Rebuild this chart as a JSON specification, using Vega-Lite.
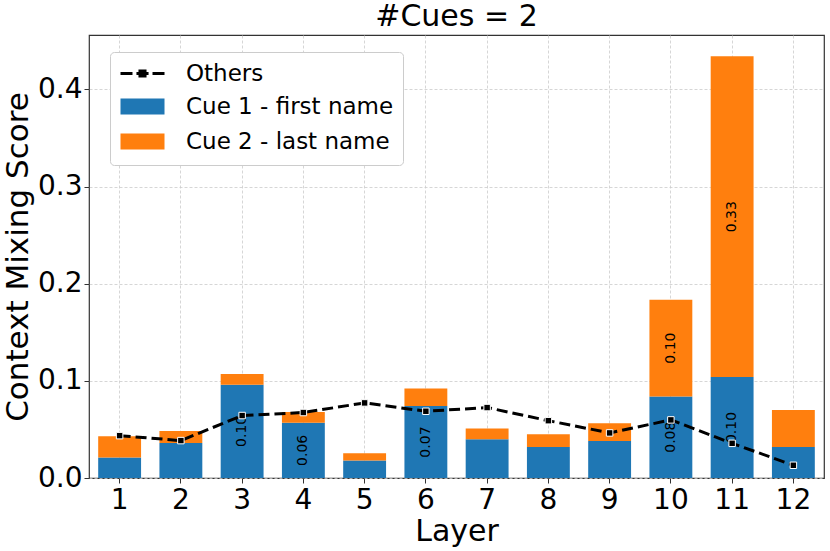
{
  "$schema": "https://vega.github.io/schema/vega-lite/v6.json",
  "width": 735,
  "height": 443,
  "autosize": {"type": "none"},
  "padding": {"left": 89, "top": 35, "right": 6, "bottom": 73},
  "title": {
    "text": "#Cues = 2",
    "font": "DejaVu Sans",
    "fontSize": 30,
    "fontWeight": "normal",
    "color": "black",
    "anchor": "middle",
    "frame": "group",
    "baseline": "alphabetic",
    "offset": 7,
    "dy": 28
  },
  "config": {
    "view": {"stroke": "#333333", "strokeWidth": 1.2},
    "font": "DejaVu Sans",
    "axis": {
      "labelFont": "DejaVu Sans",
      "titleFont": "DejaVu Sans",
      "labelFontSize": 28,
      "titleFontSize": 30,
      "titleFontWeight": "normal",
      "labelColor": "black",
      "titleColor": "black",
      "tickColor": "#333333",
      "tickSize": 5,
      "domain": false,
      "gridColor": "#cccccc",
      "gridDash": [3, 2],
      "gridWidth": 0.8
    }
  },
  "datasets": {
    "bars": [
      {"layer": 1, "cue": "Cue 1 - first name", "value": 0.021},
      {"layer": 2, "cue": "Cue 1 - first name", "value": 0.036},
      {"layer": 3, "cue": "Cue 1 - first name", "value": 0.096},
      {"layer": 4, "cue": "Cue 1 - first name", "value": 0.057},
      {"layer": 5, "cue": "Cue 1 - first name", "value": 0.018},
      {"layer": 6, "cue": "Cue 1 - first name", "value": 0.074},
      {"layer": 7, "cue": "Cue 1 - first name", "value": 0.040},
      {"layer": 8, "cue": "Cue 1 - first name", "value": 0.032},
      {"layer": 9, "cue": "Cue 1 - first name", "value": 0.038},
      {"layer": 10, "cue": "Cue 1 - first name", "value": 0.084},
      {"layer": 11, "cue": "Cue 1 - first name", "value": 0.104},
      {"layer": 12, "cue": "Cue 1 - first name", "value": 0.032},
      {"layer": 1, "cue": "Cue 2 - last name", "value": 0.022},
      {"layer": 2, "cue": "Cue 2 - last name", "value": 0.0125},
      {"layer": 3, "cue": "Cue 2 - last name", "value": 0.011},
      {"layer": 4, "cue": "Cue 2 - last name", "value": 0.011},
      {"layer": 5, "cue": "Cue 2 - last name", "value": 0.0076},
      {"layer": 6, "cue": "Cue 2 - last name", "value": 0.018},
      {"layer": 7, "cue": "Cue 2 - last name", "value": 0.011},
      {"layer": 8, "cue": "Cue 2 - last name", "value": 0.013},
      {"layer": 9, "cue": "Cue 2 - last name", "value": 0.0184},
      {"layer": 10, "cue": "Cue 2 - last name", "value": 0.0995},
      {"layer": 11, "cue": "Cue 2 - last name", "value": 0.330},
      {"layer": 12, "cue": "Cue 2 - last name", "value": 0.038}
    ],
    "others": [
      {"layer": 1, "value": 0.0436},
      {"layer": 2, "value": 0.0385},
      {"layer": 3, "value": 0.0643},
      {"layer": 4, "value": 0.0674},
      {"layer": 5, "value": 0.0773},
      {"layer": 6, "value": 0.0687},
      {"layer": 7, "value": 0.0725},
      {"layer": 8, "value": 0.059},
      {"layer": 9, "value": 0.0464},
      {"layer": 10, "value": 0.0598},
      {"layer": 11, "value": 0.0357},
      {"layer": 12, "value": 0.0131}
    ]
  },
  "layer": [
    {
      "data": {"name": "bars"},
      "mark": {"type": "bar"},
      "encoding": {
        "x": {
          "field": "layer",
          "type": "ordinal",
          "scale": {"type": "band", "paddingInner": 0.3, "paddingOuter": 0.15},
          "axis": {"title": "Layer", "labelAngle": 0, "labelPadding": 3, "titlePadding": 2, "grid": true}
        },
        "y": {
          "field": "value",
          "type": "quantitative",
          "stack": "zero",
          "scale": {"domain": [0, 0.456], "nice": false},
          "axis": {
            "title": "Context Mixing Score",
            "titleFontSize": 31,
            "values": [0, 0.1, 0.2, 0.3, 0.4],
            "format": ".1f",
            "labelPadding": 2,
            "titlePadding": 3,
            "grid": true
          }
        },
        "color": {
          "field": "cue",
          "type": "nominal",
          "scale": {
            "domain": ["Others", "Cue 1 - first name", "Cue 2 - last name"],
            "range": ["black", "#1f77b4", "#ff7f0e"]
          },
          "legend": {
            "title": null,
            "orient": "none",
            "legendX": 21,
            "legendY": 17,
            "padding": 9,
            "fillColor": "white",
            "strokeColor": "#cccccc",
            "cornerRadius": 4,
            "labelFont": "DejaVu Sans",
            "labelFontSize": 23,
            "labelColor": "black",
            "labelLimit": 400,
            "labelOffset": 42,
            "rowPadding": 6,
            "symbolSize": 484,
            "symbolOpacity": 1,
            "encode": {
              "symbols": {
                "update": {
                  "shape": {"signal": "datum.value === 'Others' ? 'M-1,0H0.09M0.45,0H1.55M1.91,0H3M0.77,-0.23H1.23V0.23H0.77Z' : 'M-1,-0.72H3V0.72H-1Z'"},
                  "stroke": {"signal": "datum.value === 'Others' ? 'black' : 'transparent'"},
                  "strokeWidth": {"value": 3}
                }
              }
            }
          }
        },
        "order": {"field": "cue", "type": "nominal", "sort": "ascending"}
      }
    },
    {
      "data": {"name": "bars"},
      "transform": [
        {"stack": "value", "groupby": ["layer"], "sort": [{"field": "cue", "order": "ascending"}], "as": ["v0", "v1"]},
        {"filter": "datum.value >= 0.05"},
        {"calculate": "(datum.v0 + datum.v1) / 2", "as": "mid"}
      ],
      "mark": {"type": "text", "angle": 270, "fontSize": 14, "font": "DejaVu Sans", "color": "black", "align": "center", "baseline": "middle"},
      "encoding": {
        "x": {"field": "layer", "type": "ordinal"},
        "y": {"field": "mid", "type": "quantitative"},
        "text": {"field": "value", "type": "quantitative", "format": ".2f"}
      }
    },
    {
      "data": {"name": "others"},
      "mark": {"type": "line", "color": "black", "strokeWidth": 3, "strokeDash": [11, 5]},
      "encoding": {
        "x": {"field": "layer", "type": "ordinal"},
        "y": {"field": "value", "type": "quantitative"}
      }
    },
    {
      "data": {"name": "others"},
      "mark": {"type": "point", "shape": "square", "filled": true, "fill": "black", "stroke": "white", "strokeWidth": 1, "size": 42, "opacity": 1},
      "encoding": {
        "x": {"field": "layer", "type": "ordinal"},
        "y": {"field": "value", "type": "quantitative"}
      }
    }
  ]
}
